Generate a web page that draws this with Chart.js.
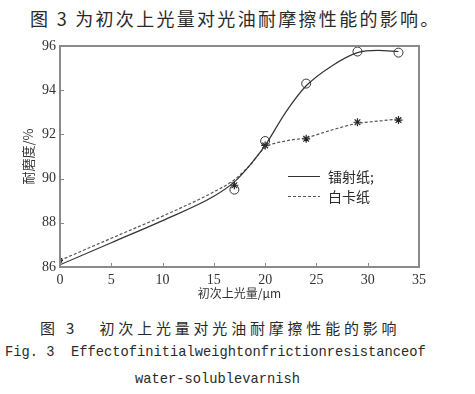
<!DOCTYPE html>
<html>
<head>
<meta charset="utf-8">
<script src="https://cdn.jsdelivr.net/npm/chart.js@4"></script>
<style>
  body { margin: 0; background: #fff; width: 475px; height: 394px; position: relative; overflow: hidden; }
  .txt { position: absolute; white-space: nowrap; color: #2a2a2a; }
  #top { left: 30px; top: 5px; font: 18px "Noto Sans CJK SC"; letter-spacing: 2.3px; }
  #cap1 { left: 40px; top: 317px; font: 15px "Noto Sans CJK SC"; letter-spacing: 3.8px; }
  #cap2 { left: 5px; top: 345px; font: 13.75px "Liberation Mono"; }
  #cap3 { left: 135px; top: 372px; font: 13.75px "Liberation Mono"; }
  #chartRoles { position: absolute; left: 0; top: 30px; }
</style>
</head>
<body>
<div class="txt" id="top">图 3 为初次上光量对光油耐摩擦性能的影响。</div>
<canvas id="chartRoles" width="475" height="275"></canvas>
<div class="txt" id="cap1">图 3&nbsp;&nbsp;&nbsp;初次上光量对光油耐摩擦性能的影响</div>
<div class="txt" id="cap2">Fig. 3&nbsp;&nbsp;Effectofinitialweightonfrictionresistanceof</div>
<div class="txt" id="cap3">water-solublevarnish</div>
<script>
// measured points
const xPuntos = [0, 17, 20, 24, 29, 33]
const laserPuntos = [86.1, 89.5, 91.7, 94.3, 95.75, 95.7]
const cartonPuntos = [86.3, 89.7, 91.5, 91.8, 92.55, 92.65]

// fitted curves
const xCurva = [0, 5, 10, 15, 17, 18.5, 20, 22, 24, 26.5, 29, 31, 33]
const laserCurva = [86.1, 87.1, 88.1, 89.2, 89.85, 90.6, 91.5, 93.0, 94.2, 95.1, 95.7, 95.8, 95.75]
const cartonCurva = [86.3, 87.3, 88.3, 89.4, 89.95, 90.6, 91.4, 91.7, 91.85, 92.2, 92.5, 92.6, 92.7]

const xTicks = [0, 5, 10, 15, 20, 25, 30, 35]
const yTicks = [86, 88, 90, 92, 94, 96]
const nombres = ['镭射纸;', '白卡纸']

const toXY = (xs, ys) => xs.map((x, i) => ({ x: x, y: ys[i] }))

const marco = {
    id: 'marco',
    afterDraw(chart) {
        const { ctx, chartArea: a, scales } = chart
        ctx.save()
        ctx.strokeStyle = '#8a8a8a'
        ctx.lineWidth = 2
        ctx.strokeRect(a.left, a.top, a.right - a.left, a.bottom - a.top)
        ctx.lineWidth = 1
        ctx.beginPath()
        xTicks.forEach(t => {
            const px = Math.round(scales.x.getPixelForValue(t)) + 0.5
            ctx.moveTo(px, a.bottom); ctx.lineTo(px, a.bottom - 4)
        })
        yTicks.forEach(t => {
            const py = Math.round(scales.y.getPixelForValue(t)) + 0.5
            ctx.moveTo(a.left, py); ctx.lineTo(a.left + 4, py)
        })
        ctx.stroke()

        // legend inside the plot
        const lx = a.left + 228, ly = a.top + 130
        ctx.font = '14px "Noto Sans CJK SC"'
        ctx.fillStyle = '#2a2a2a'
        ctx.textBaseline = 'middle'
        ;[[], [3, 2]].forEach((dash, i) => {
            const y = ly + i * 20 + 0.5
            ctx.strokeStyle = i ? '#555' : '#333'
            ctx.setLineDash(dash)
            ctx.beginPath(); ctx.moveTo(lx, y); ctx.lineTo(lx + 32, y); ctx.stroke()
            ctx.fillText(nombres[i], lx + 40, y)
        })
        ctx.restore()
    }
}

const canvas = document.getElementById('chartRoles')
const context = canvas.getContext('2d')

const chart = new Chart(context, {
    type: 'scatter',
    data: {
        datasets: [
            {
                label: nombres[0],
                data: toXY(xCurva, laserCurva),
                showLine: true,
                cubicInterpolationMode: 'monotone',
                borderColor: '#333',
                borderWidth: 1.2,
                pointRadius: 0
            },
            {
                label: nombres[1],
                data: toXY(xCurva, cartonCurva),
                showLine: true,
                cubicInterpolationMode: 'monotone',
                borderColor: '#555',
                borderDash: [3, 2],
                borderWidth: 1.2,
                pointRadius: 0
            },
            {
                label: nombres[0] + ' pts',
                data: toXY(xPuntos, laserPuntos),
                pointStyle: 'circle',
                pointRadius: [0, 4.5, 4.5, 4.5, 4.5, 4.5],
                pointBorderColor: '#333',
                pointBackgroundColor: 'rgba(0,0,0,0)',
                pointBorderWidth: 1
            },
            {
                label: nombres[1] + ' pts',
                data: toXY(xPuntos, cartonPuntos),
                pointStyle: 'star',
                pointRadius: [3, 4, 4, 4, 4, 4],
                pointBorderColor: '#222',
                pointBorderWidth: 1.2
            }
        ]
    },
    options: {
        responsive: false,
        animation: false,
        devicePixelRatio: 1,
        layout: { padding: { left: 20, right: 56, top: 16, bottom: 0 } },
        plugins: { legend: { display: false }, tooltip: { enabled: false } },
        scales: {
            x: {
                type: 'linear', min: 0, max: 35,
                afterBuildTicks: s => { s.ticks = xTicks.map(v => ({ value: v })) },
                afterFit: s => { s.height = 38 },
                grid: { display: false, drawTicks: false },
                border: { display: false },
                ticks: { color: '#333', padding: 5, font: { family: 'Liberation Serif', size: 14 } },
                title: { display: true, text: '初次上光量/μm', color: '#333', padding: { top: 3 },
                         font: { family: 'Noto Sans CJK SC', size: 12 } }
            },
            y: {
                min: 86, max: 96,
                afterBuildTicks: s => { s.ticks = yTicks.map(v => ({ value: v })) },
                afterFit: s => { s.width = 40 },
                grid: { display: false, drawTicks: false },
                border: { display: false },
                ticks: { color: '#333', padding: 4, font: { family: 'Liberation Serif', size: 14 } },
                title: { display: true, text: '耐磨度/%', color: '#333', padding: 0,
                         font: { family: 'Noto Sans CJK SC', size: 13 } }
            }
        }
    },
    plugins: [marco]
})
</script>
</body>
</html>
